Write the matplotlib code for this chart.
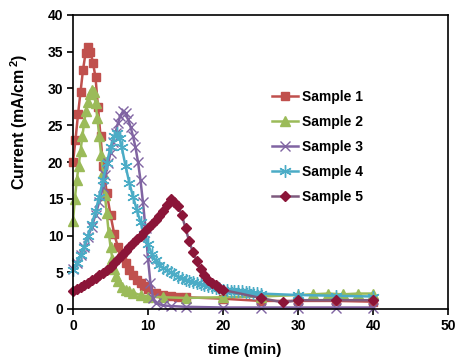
import matplotlib.pyplot as plt
from matplotlib.lines import Line2D

plt.rcParams['font.family'] = ['Liberation Sans', 'DejaVu Sans']
plt.rcParams['font.weight'] = 'bold'
plt.rcParams['mathtext.fontset'] = 'custom'
plt.rcParams['mathtext.rm'] = 'Liberation Sans:bold'
plt.rcParams['mathtext.bf'] = 'Liberation Sans:bold'

# Sample 1
t1 = [0, 0.33, 0.67, 1.0, 1.33, 1.67, 2.0, 2.33, 2.67, 3.0, 3.33, 3.67, 4.0,
      4.5, 5.0, 5.5, 6.0, 6.5, 7.0, 7.5, 8.0, 8.5, 9.0, 9.5, 10, 11, 12, 13,
      14, 15, 20, 25, 30, 35, 40]
y1 = [20, 23, 26.5, 29.5, 32.5, 34.8, 35.7, 35.0, 33.5, 31.5, 27.5, 23.5, 19.5,
      15.8, 12.8, 10.2, 8.4, 7.2, 6.2, 5.3, 4.6, 4.0, 3.5, 3.1, 2.7, 2.2, 1.9,
      1.8, 1.7, 1.6, 1.4, 1.1, 1.1, 1.1, 1.0]

# Sample 2
t2 = [0, 0.25, 0.5, 0.75, 1.0, 1.25, 1.5, 1.75, 2.0, 2.25, 2.5, 2.75, 3.0,
      3.25, 3.5, 3.75, 4.0, 4.25, 4.5, 4.75, 5.0, 5.25, 5.5, 5.75, 6.0, 6.5,
      7.0, 7.5, 8, 9, 10, 12, 15, 20, 25, 30, 32, 34, 36, 38, 40]
y2 = [12, 15, 17.5, 19.5, 21.5, 23.5, 25.5, 27, 28.2, 29.2, 29.8, 29.5, 28,
      26, 23.5, 21, 18.5, 15.5, 13, 10.5, 8.5, 6.8, 5.5, 4.5, 3.8, 3.0,
      2.6, 2.4, 2.2, 1.9, 1.7, 1.6, 1.5, 1.6, 1.7, 1.9, 2.0, 2.1, 2.0, 2.1, 2.1]

# Sample 3
t3 = [0, 0.5, 1, 1.5, 2, 2.5, 3, 3.5, 4, 4.33, 4.67, 5, 5.33, 5.67, 6, 6.33,
      6.67, 7, 7.33, 7.67, 8, 8.33, 8.67, 9, 9.33, 9.67, 10, 10.33, 10.67, 11,
      12, 13, 15, 20, 25, 30, 35, 40]
y3 = [5.5, 6.2, 7.3, 8.4, 9.8, 11.2, 12.8, 14.6, 16.6, 18.2, 19.8, 21.2, 22.7,
      24.0, 25.3, 26.3, 26.9, 26.7, 25.8, 24.8, 23.5, 22.0, 20.0, 17.5, 14.5,
      11.0, 6.8, 3.5, 1.5, 0.8, 0.5, 0.4, 0.3, 0.2, 0.2, 0.2, 0.2, 0.2]

# Sample 4
t4 = [0, 0.5, 1, 1.5, 2, 2.5, 3, 3.5, 4, 4.5, 5, 5.5, 5.8, 6.2, 6.5, 7, 7.5,
      8, 8.5, 9, 9.5, 10, 10.5, 11, 11.5, 12, 12.5, 13, 13.5, 14, 14.5, 15,
      15.5, 16, 16.5, 17, 17.5, 18, 18.5, 19, 19.5, 20, 20.5, 21, 21.5, 22,
      22.5, 23, 23.5, 24, 24.5, 25, 30, 35, 40]
y4 = [5.3, 6.2, 7.3, 8.5, 10, 11.5, 13.3, 15.3, 17.5, 19.8, 22, 23.5, 23.9,
      23.3, 22, 19.5, 17.2, 15.3, 13.5, 11.8, 10.2, 8.8, 7.5, 6.6, 6.0, 5.6,
      5.3, 5.0, 4.7, 4.4, 4.2, 4.0, 3.8, 3.7, 3.5, 3.4, 3.2, 3.1, 3.0, 2.9,
      2.8, 2.6, 2.6, 2.5, 2.5, 2.4, 2.4, 2.3, 2.3, 2.2, 2.2, 2.1, 1.9, 1.8, 1.7]

# Sample 5
t5 = [0, 0.5, 1, 1.5, 2, 2.5, 3, 3.5, 4, 4.5, 5, 5.5, 6, 6.5, 7, 7.5, 8, 8.5,
      9, 9.5, 10, 10.5, 11, 11.5, 12, 12.5, 13, 13.5, 14, 14.5, 15, 15.5, 16,
      16.5, 17, 17.5, 18, 18.5, 19, 19.5, 20, 25, 28, 30, 35, 40]
y5 = [2.5, 2.7, 3.0, 3.3, 3.6, 3.9, 4.2, 4.6, 4.9, 5.3, 5.7, 6.2, 6.8, 7.3,
      7.9, 8.4, 9.0, 9.5, 10.0, 10.5, 11.0, 11.5, 12.1, 12.7, 13.4, 14.2,
      15.0, 14.6, 14.0, 12.8, 11.0, 9.2, 7.7, 6.5, 5.4, 4.6, 4.0, 3.6, 3.2,
      2.9, 2.6, 1.5, 0.9, 1.2, 1.2, 1.2]

labels = ['Sample 1', 'Sample 2', 'Sample 3', 'Sample 4', 'Sample 5']

styles = [
    dict(color='#C0504D', lw=1.8, marker='s', ms=6),
    dict(color='#9BBB59', lw=1.8, marker='^', ms=7),
    dict(color='#8064A2', lw=1.8, marker='x', ms=7.5, mew=1.0),
    dict(color='#4BACC6', lw=1.8, marker=(6, 2, 0), ms=9, mew=1.0),
    dict(color='#7E5A7E', lw=1.8, marker='D', ms=5.5,
         mfc='#8B1538', mec='#8B1538'),
]

fig = plt.figure(figsize=(4.57, 3.61), dpi=100)
ax = fig.add_axes([73 / 457, 1 - 309 / 361, 375 / 457, 294 / 361])

for t, y, st in zip([t1, t2, t3, t4, t5], [y1, y2, y3, y4, y5], styles):
    ax.plot(t, y, clip_on=False, **st)

ax.set_xlim(0, 50)
ax.set_ylim(0, 40)
ax.set_xticks(range(0, 51, 10))
ax.set_yticks(range(0, 41, 5))
ax.tick_params(direction='out', length=4, width=1.2, labelsize=10, pad=3)
for s in ax.spines.values():
    s.set_linewidth(1.2)

ax.set_xlabel('time (min)', fontsize=11, fontweight='bold')
ax.xaxis.set_label_coords(0.458, -0.115)
ax.set_ylabel('Current (mA/cm$^{\\,2}$)', fontsize=11.5, fontweight='bold')
ax.yaxis.set_label_coords(-0.115, 0.636)

handles = [Line2D([], [], **st) for st in styles]
fig.legend(handles, labels, loc='upper left',
           bbox_to_anchor=(259 / 457, 1 - 77 / 361),
           frameon=False, fontsize=10, handlelength=1.9, handletextpad=0.3,
           labelspacing=0.8)

plt.savefig('out.png', dpi=100)
